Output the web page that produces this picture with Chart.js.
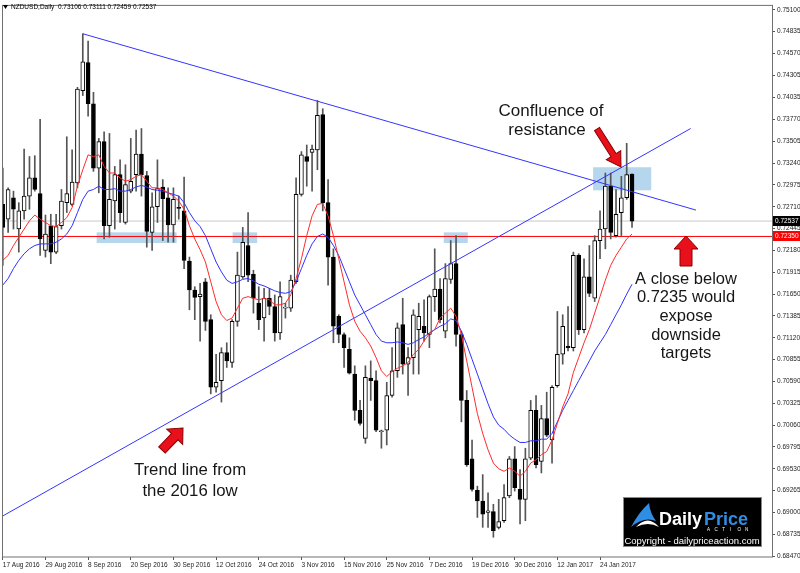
<!DOCTYPE html>
<html>
<head>
<meta charset="utf-8">
<title>NZDUSD Daily</title>
<script src="https://cdn.jsdelivr.net/npm/chart.js@4.4.1/dist/chart.umd.min.js"></script>
<style>
    body { margin: 0; background: #fff; }
</style>
</head>
<body>
<canvas id="grafico" width="800" height="573"></canvas>
<script>
// one candle per trading day, first one is 17 Aug 2016
const opens = [0.7274,0.7256,0.7282,0.7244,0.7266,0.7284,0.7306,0.7287,0.7218,0.7248,
    0.7216,0.7248,0.7276,0.7274,0.7300,0.7412,0.7446,0.7396,0.7318,0.7350,
    0.7248,0.7278,0.7310,0.7252,0.7290,0.7310,0.7335,0.7309,0.7240,0.7271,
    0.7295,0.7282,0.7249,0.7270,0.7266,0.7205,0.7170,0.7162,0.7180,0.7134,
    0.7052,0.7060,0.7094,0.7082,0.7132,0.7186,0.7224,0.7189,0.7154,0.7136,
    0.7160,0.7150,0.7118,0.7148,0.7148,0.7180,0.7286,0.7332,0.7337,0.7340,
    0.7383,0.7276,0.7210,0.7138,0.7116,0.7098,0.7068,0.7024,0.6990,0.7063,
    0.7060,0.6998,0.7000,0.7042,0.7072,0.7128,0.7080,0.7088,0.7122,0.7126,
    0.7116,0.7162,0.7171,0.7120,0.7183,0.7202,0.7116,0.7036,0.6965,0.6927,
    0.6914,0.6900,0.6901,0.6882,0.6890,0.6920,0.6965,0.6928,0.6916,0.6966,
    0.7024,0.6962,0.7014,0.6988,0.7054,0.7092,0.7102,0.7100,0.7212,0.7122,
    0.7186,0.7160,0.7230,0.7244,0.7296,0.7236,0.7264,0.7282,0.73106];
const highs = [0.7318,0.7294,0.7290,0.7276,0.7341,0.7332,0.7333,0.7377,0.7261,0.7262,
    0.7262,0.7292,0.7356,0.7340,0.7416,0.7481,0.7472,0.7410,0.7354,0.7362,
    0.7360,0.7320,0.7328,0.7322,0.7354,0.7364,0.7366,0.7314,0.7288,0.7328,
    0.7304,0.7294,0.7294,0.7284,0.7307,0.7210,0.7174,0.7178,0.7184,0.7140,
    0.7092,0.7100,0.7106,0.7134,0.7216,0.7246,0.7264,0.7194,0.7174,0.7172,
    0.7172,0.7164,0.7180,0.7154,0.7188,0.7306,0.7338,0.7346,0.7346,0.7400,
    0.7390,0.7304,0.7220,0.7140,0.7118,0.7112,0.7078,0.7036,0.7078,0.7084,
    0.7072,0.7000,0.7058,0.7100,0.7130,0.7160,0.7100,0.7146,0.7154,0.7158,
    0.7164,0.7220,0.7184,0.7202,0.7230,0.7236,0.7120,0.7048,0.6988,0.6932,
    0.6946,0.6924,0.6910,0.6916,0.6934,0.6968,0.6980,0.6952,0.6978,0.7036,
    0.7042,0.7030,0.7046,0.7054,0.7144,0.7140,0.7150,0.7216,0.7214,0.7208,
    0.7224,0.7236,0.7266,0.7312,0.7312,0.7292,0.7308,0.7348,0.73111];
const lows = [0.7200,0.7240,0.7244,0.7216,0.7256,0.7268,0.7290,0.7212,0.7210,0.7202,
    0.7214,0.7244,0.7264,0.7272,0.7294,0.7406,0.7381,0.7314,0.7288,0.7232,
    0.7234,0.7244,0.7252,0.7250,0.7288,0.7290,0.7284,0.7222,0.7218,0.7252,
    0.7230,0.7228,0.7228,0.7256,0.7196,0.7146,0.7134,0.7108,0.7121,0.7044,
    0.7046,0.7034,0.7076,0.7076,0.7126,0.7184,0.7180,0.7142,0.7122,0.7108,
    0.7140,0.7108,0.7110,0.7136,0.7144,0.7178,0.7284,0.7296,0.7290,0.7316,
    0.7266,0.7176,0.7106,0.7106,0.7076,0.7068,0.7012,0.7006,0.6984,0.7036,
    0.6998,0.6978,0.6982,0.7040,0.7064,0.7068,0.7042,0.7068,0.7068,0.7108,
    0.7100,0.7144,0.7130,0.7112,0.7178,0.7102,0.7010,0.6956,0.6926,0.6894,
    0.6882,0.6882,0.6870,0.6880,0.6888,0.6918,0.6926,0.6886,0.6890,0.6964,
    0.6954,0.6948,0.6992,0.6960,0.7052,0.7080,0.7096,0.7096,0.7116,0.7118,
    0.7162,0.7156,0.7208,0.7220,0.7232,0.7234,0.7236,0.7280,0.72459];
const closes = [0.7246,0.7292,0.7268,0.7266,0.7284,0.7306,0.7292,0.7232,0.7238,0.7216,
    0.7247,0.7278,0.7287,0.7301,0.7414,0.7447,0.7396,0.7318,0.7350,0.7248,
    0.7280,0.7310,0.7264,0.7298,0.7302,0.7335,0.7310,0.7241,0.7271,0.7293,
    0.7281,0.7249,0.7280,0.7269,0.7206,0.7170,0.7161,0.7165,0.7132,0.7052,
    0.7058,0.7094,0.7084,0.7132,0.7188,0.7228,0.7188,0.7160,0.7134,0.7160,
    0.7150,0.7118,0.7162,0.7149,0.7182,0.7286,0.7334,0.7326,0.7341,0.7382,
    0.7276,0.7210,0.7126,0.7116,0.7100,0.7069,0.7024,0.7008,0.7064,0.7060,
    0.7000,0.6999,0.7042,0.7072,0.7124,0.7080,0.7088,0.7140,0.7138,0.7118,
    0.7162,0.7171,0.7134,0.7184,0.7202,0.7116,0.7036,0.6958,0.6928,0.6914,
    0.6898,0.6902,0.6878,0.6889,0.6918,0.6965,0.6930,0.6916,0.6965,0.7024,
    0.6958,0.7014,0.6994,0.7052,0.7092,0.7126,0.7100,0.7212,0.7122,0.7186,
    0.7166,0.7230,0.7244,0.7296,0.7240,0.7262,0.7282,0.7310,0.72537];

// moving averages (red = fast, blue = slow)
const redMA = [0.7206,0.7212,0.7224,0.7234,0.7244,0.7254,0.7261,0.7256,0.7252,0.7248,
    0.7247,0.7252,0.7258,0.7270,0.7296,0.7316,0.7334,0.7332,0.7334,0.7320,
    0.7312,0.7312,0.7306,0.7302,0.7304,0.7308,0.7310,0.7302,0.7294,0.7294,
    0.7292,0.7288,0.7284,0.7278,0.7268,0.7248,0.7232,0.7219,0.7204,0.7180,
    0.7156,0.7140,0.7133,0.7136,0.7148,0.7160,0.7162,0.7160,0.7158,0.7160,
    0.7158,0.7152,0.7152,0.7154,0.7164,0.7184,0.7208,0.7236,0.7260,0.7274,
    0.7275,0.7260,0.7236,0.7208,0.7180,0.7152,0.7132,0.7120,0.7112,0.7102,
    0.7088,0.7072,0.7065,0.7071,0.7075,0.7078,0.7082,0.7092,0.7098,0.7108,
    0.7117,0.7122,0.7136,0.7142,0.7148,0.7138,0.7116,0.7084,0.7052,0.7020,
    0.6996,0.6976,0.6960,0.6953,0.6950,0.6954,0.6950,0.6944,0.6950,0.6960,
    0.6964,0.6970,0.6974,0.6988,0.7008,0.7028,0.7044,0.7070,0.7088,0.7106,
    0.7122,0.7142,0.7162,0.7182,0.7200,0.7212,0.7222,0.7232,0.7238];
const blueMA = [0.7176,0.7184,0.7196,0.7206,0.7214,0.7220,0.7224,0.7226,0.7226,0.7226,
    0.7228,0.7232,0.7238,0.7248,0.7264,0.7280,0.7290,0.7292,0.7296,0.7292,
    0.7292,0.7293,0.7290,0.7290,0.7292,0.7295,0.7297,0.7295,0.7292,0.7291,
    0.7290,0.7288,0.7286,0.7284,0.7276,0.7264,0.7254,0.7247,0.7236,0.7220,
    0.7204,0.7192,0.7182,0.7178,0.7180,0.7183,0.7184,0.7181,0.7177,0.7175,
    0.7172,0.7169,0.7167,0.7166,0.7168,0.7180,0.7196,0.7212,0.7226,0.7235,
    0.7238,0.7234,0.7224,0.7212,0.7196,0.7180,0.7164,0.7152,0.7140,0.7128,
    0.7116,0.7108,0.7106,0.7106,0.7107,0.7106,0.7104,0.7106,0.7110,0.7113,
    0.7118,0.7122,0.7126,0.7129,0.7135,0.7133,0.7120,0.7104,0.7086,0.7068,
    0.7050,0.7032,0.7016,0.7006,0.7001,0.6994,0.6989,0.6985,0.6985,0.6987,
    0.6987,0.6989,0.6989,0.6996,0.7010,0.7024,0.7036,0.7048,0.7060,0.7072,
    0.7084,0.7096,0.7106,0.7116,0.7128,0.7140,0.7152,0.7165,0.7177];

// axis labels
const dateLabels = ["17 Aug 2016", "29 Aug 2016", "8 Sep 2016", "20 Sep 2016", "30 Sep 2016",
    "12 Oct 2016", "24 Oct 2016", "3 Nov 2016", "15 Nov 2016", "25 Nov 2016", "7 Dec 2016",
    "19 Dec 2016", "30 Dec 2016", "12 Jan 2017", "24 Jan 2017"];
const dateBars = [0, 8, 16, 24, 32, 40, 48, 56, 64, 72, 80, 88, 96, 104, 112];
const priceTicks = [0.75100, 0.74835, 0.74570, 0.74305, 0.74035, 0.73770, 0.73505, 0.73240,
    0.72975, 0.72710, 0.72445, 0.72180, 0.71915, 0.71650, 0.71385, 0.71120, 0.70855,
    0.70590, 0.70325, 0.70060, 0.69795, 0.69530, 0.69265, 0.69000, 0.68735, 0.68470];

// drawn objects: trend lines [bar, price], levels, zones [bar0, bar1, price0, price1]
const trendDown = [[15, 0.7481], [130, 0.7267]];
const trendUp = [[-0.5, 0.6894], [129, 0.7366]];
const bidLevel = 0.72537;
const supportLevel = 0.72350;
const zones = [[17.6, 32.6, 0.7227, 0.7240], [43.1, 47.7, 0.7227, 0.7240],
    [82.7, 87.2, 0.7227, 0.7240], [110.7, 121.6, 0.7291, 0.7319]];

const font = '"Liberation Sans", Arial, sans-serif';
const bars = opens.map((_, i) => i);

function pontos(lista) {
    return lista.map(p => ({ x: p[0], y: p[1] }));
}

function seta(ctx, x0, y0, x1, y1, haste, cabeca, comp) {
    const ang = Math.atan2(y1 - y0, x1 - x0);
    const len = Math.hypot(x1 - x0, y1 - y0);
    ctx.save();
    ctx.translate(x0, y0);
    ctx.rotate(ang);
    ctx.beginPath();
    ctx.moveTo(0, -haste / 2);
    ctx.lineTo(len - comp, -haste / 2);
    ctx.lineTo(len - comp, -cabeca / 2);
    ctx.lineTo(len, 0);
    ctx.lineTo(len - comp, cabeca / 2);
    ctx.lineTo(len - comp, haste / 2);
    ctx.lineTo(0, haste / 2);
    ctx.closePath();
    ctx.fillStyle = '#e8101a';
    ctx.fill();
    ctx.strokeStyle = '#8a0000';
    ctx.lineWidth = 1;
    ctx.stroke();
    ctx.restore();
}

function priceBox(ctx, y, value, bg) {
    const py = y.getPixelForValue(value);
    ctx.fillStyle = bg;
    ctx.fillRect(773, Math.round(py) - 5, 27, 10);
    ctx.fillStyle = '#fff';
    ctx.font = '6.5px ' + font;
    ctx.textAlign = 'left';
    ctx.textBaseline = 'middle';
    ctx.fillText(value.toFixed(5), 775, py);
}

const desenhos = {
    id: 'desenhos',
    beforeDatasetsDraw(chart) {
        const { ctx, chartArea: a, scales: { x, y } } = chart;
        ctx.save();
        ctx.beginPath();
        ctx.rect(a.left, a.top, a.width, a.height);
        ctx.clip();
        ctx.fillStyle = 'rgba(120, 180, 222, 0.55)';
        zones.forEach(z => {
            const x0 = x.getPixelForValue(z[0]);
            const x1 = x.getPixelForValue(z[1]);
            const y0 = y.getPixelForValue(z[3]);
            const y1 = y.getPixelForValue(z[2]);
            ctx.fillRect(x0, y0, x1 - x0, y1 - y0);
        });
        ctx.restore();
    },
    afterDraw(chart) {
        const { ctx, chartArea: a, scales: { y } } = chart;
        ctx.save();

        // frame
        ctx.strokeStyle = '#707070';
        ctx.lineWidth = 1;
        ctx.strokeRect(a.left + 0.5, a.top - 0.5, a.right - a.left, a.bottom - a.top + 0.5);

        // header
        const last = opens.length - 1;
        ctx.fillStyle = '#000';
        ctx.beginPath();
        ctx.moveTo(3, 5); ctx.lineTo(8, 5); ctx.lineTo(5.5, 9);
        ctx.closePath();
        ctx.fill();
        ctx.font = '6.5px ' + font;
        ctx.textAlign = 'left';
        ctx.textBaseline = 'middle';
        const ohlc = [opens[last], highs[last], lows[last], closes[last]].map(v => v.toFixed(5)).join(' ');
        ctx.fillText('NZDUSD,Daily  ' + ohlc, 11, 7.5);

        // price labels of the two horizontal lines
        priceBox(ctx, y, bidLevel, '#000');
        priceBox(ctx, y, supportLevel, '#ff0000');

        // notes
        ctx.fillStyle = '#161616';
        ctx.font = '17px ' + font;
        ctx.textAlign = 'center';
        ctx.fillText('Confluence of', 551, 111);
        ctx.fillText('resistance', 547, 130);
        ctx.font = '16.5px ' + font;
        ['A close below', '0.7235 would', 'expose', 'downside', 'targets'].forEach((t, k) => {
            ctx.fillText(t, 686, 279 + k * 18.7);
        });
        ctx.font = '16.8px ' + font;
        ctx.fillText('Trend line from', 190, 470);
        ctx.fillText('the 2016 low', 190, 491);

        seta(ctx, 597, 129, 621, 167, 6, 17, 14);
        seta(ctx, 686, 266, 686, 236, 12, 24, 13);
        seta(ctx, 162, 450, 183, 428, 9, 22, 12);

        // logo
        ctx.fillStyle = '#000';
        ctx.fillRect(623, 497, 139, 50);
        ctx.strokeStyle = '#8a8a8a';
        ctx.strokeRect(623.5, 497.5, 138, 49);
        ctx.fillStyle = '#2f8de4';
        ctx.beginPath();
        ctx.moveTo(631, 527);
        ctx.quadraticCurveTo(639, 512, 649, 503);
        ctx.quadraticCurveTo(650, 513, 656, 521);
        ctx.quadraticCurveTo(644, 516, 631, 527);
        ctx.fill();
        ctx.fillStyle = '#fff';
        ctx.beginPath();
        ctx.moveTo(636, 527);
        ctx.quadraticCurveTo(648, 514, 659, 527);
        ctx.quadraticCurveTo(648, 521, 636, 527);
        ctx.fill();
        ctx.font = 'bold 18px ' + font;
        ctx.textAlign = 'left';
        ctx.textBaseline = 'alphabetic';
        ctx.fillStyle = '#fff';
        ctx.fillText('Daily', 659, 525);
        ctx.fillStyle = '#2f8de4';
        ctx.fillText('Price', 704, 525);
        ctx.fillStyle = '#fff';
        ctx.font = '4.5px ' + font;
        'ACTION'.split('').forEach((c, k) => ctx.fillText(c, 707 + k * 7.6, 531));
        ctx.font = '9.5px ' + font;
        ctx.textAlign = 'center';
        ctx.fillText('Copyright - dailypriceaction.com', 692, 544);

        ctx.restore();
    }
};

const ctx = document.getElementById('grafico').getContext('2d');

new Chart(ctx, {
    type: 'bar',
    data: {
        datasets: [
            { type: 'line', data: bars.map(i => ({ x: i, y: redMA[i] })), borderColor: '#ff2a2a', borderWidth: 1, pointRadius: 0, order: 0 },
            { type: 'line', data: bars.map(i => ({ x: i, y: blueMA[i] })), borderColor: '#3030ff', borderWidth: 1, pointRadius: 0, order: 0 },
            { type: 'line', data: pontos(trendDown), borderColor: '#3434ff', borderWidth: 1, pointRadius: 0, order: 0 },
            { type: 'line', data: pontos(trendUp), borderColor: '#3434ff', borderWidth: 1, pointRadius: 0, order: 0 },
            {
                data: bars.map(i => ({ x: i, y: [opens[i], closes[i]] })),
                backgroundColor: bars.map(i => closes[i] >= opens[i] ? '#ffffff' : '#000000'),
                borderColor: '#000',
                borderWidth: 1,
                borderSkipped: false,
                barThickness: 4,
                minBarLength: 1,
                grouped: false,
                order: 1
            },
            {
                data: bars.map(i => ({ x: i, y: [lows[i], highs[i]] })),
                backgroundColor: '#555',
                barThickness: 1,
                grouped: false,
                order: 2
            },
            { type: 'line', data: [{ x: -1, y: bidLevel }, { x: 146, y: bidLevel }], borderColor: '#c8c8c8', borderWidth: 1, pointRadius: 0, order: 3 },
            { type: 'line', data: [{ x: -1, y: supportLevel }, { x: 146, y: supportLevel }], borderColor: '#ff0000', borderWidth: 1, pointRadius: 0, order: 3 }
        ]
    },
    options: {
        responsive: false,
        animation: false,
        layout: { padding: { left: 2, top: 2, right: 0, bottom: 0 } },
        plugins: { legend: { display: false }, tooltip: { enabled: false } },
        scales: {
            x: {
                type: 'linear',
                min: -0.15,
                max: 144.25,
                offset: false,
                grid: { offset: false, drawOnChartArea: false, tickLength: 3, color: '#555' },
                border: { display: false },
                afterBuildTicks: s => { s.ticks = dateBars.map(v => ({ value: v })); },
                afterFit: s => { s.height = 16; },
                ticks: {
                    autoSkip: false,
                    maxRotation: 0,
                    align: 'start',
                    padding: 1,
                    color: '#222',
                    font: { size: 6.5, family: font },
                    callback: v => dateLabels[dateBars.indexOf(v)]
                }
            },
            y: {
                position: 'right',
                min: 0.68460,
                max: 0.75148,
                beginAtZero: false,
                grid: { drawOnChartArea: false, tickLength: 3, color: '#555' },
                border: { display: false },
                afterBuildTicks: s => { s.ticks = priceTicks.map(v => ({ value: v })); },
                afterFit: s => { s.width = 28; },
                ticks: {
                    autoSkip: false,
                    padding: 2,
                    color: '#222',
                    font: { size: 6.5, family: font },
                    callback: v => v.toFixed(5)
                }
            }
        }
    },
    plugins: [desenhos]
});
</script>
</body>
</html>
